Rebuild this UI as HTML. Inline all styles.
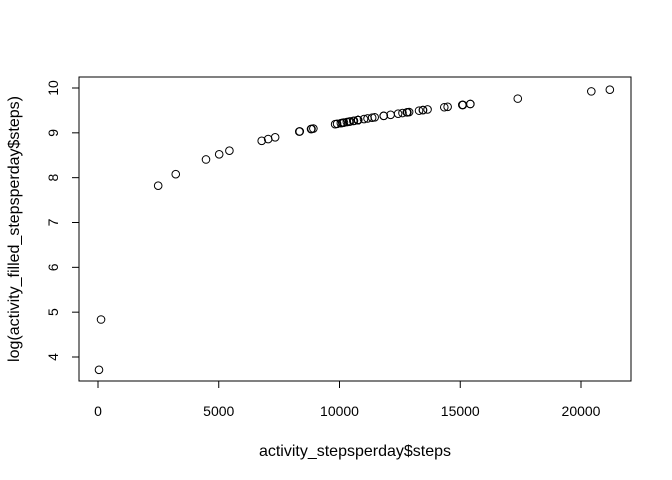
<!DOCTYPE html>
<html><head><meta charset="utf-8"><style>
body{margin:0;background:#fff}
svg{display:block;font-family:"Liberation Sans",sans-serif}
</style></head><body>
<svg id="chart" width="672" height="480" xmlns="http://www.w3.org/2000/svg">
<rect x="79" y="77" width="552" height="304" fill="none" stroke="#000" stroke-width="1"/>
<g id="xaxis"></g>
<g id="yaxis"></g>
<g id="points"></g>
<text x="355" y="456" text-anchor="middle" font-size="16">activity_stepsperday$steps</text>
<text x="0" y="0" transform="translate(19,229) rotate(-90)" text-anchor="middle" font-size="16">log(activity_filled_stepsperday$steps)</text>
</svg>
<script>
const steps = [126,11352,12116,13294,15420,11015,12811,9900,10304,17382,12426,15098,10139,15084,13452,10056,11829,10395,8821,13460,8918,8355,2492,6778,10119,11458,5018,9819,15414,10600,10571,10439,8334,12883,3219,12608,10765,7336,41,5441,14339,15110,8841,4472,12787,20427,21194,14478,11834,11162,13646,10183,7047,10766,10766,10766,10766,10766,10766,10766,10766];
const xTicks = [0,5000,10000,15000,20000];
const yTicks = [4,5,6,7,8,9,10];
const NS="http://www.w3.org/2000/svg";
function sx(v){return 98+v*(483/20000);}
function sy(v){return 357-(v-4)*(269/6);}
function mk(t,a,p){const e=document.createElementNS(NS,t);for(const k in a)e.setAttribute(k,a[k]);p.appendChild(e);return e;}
const xa=document.getElementById('xaxis'),ya=document.getElementById('yaxis'),pts=document.getElementById('points');
mk('line',{x1:sx(xTicks[0]),x2:sx(xTicks[xTicks.length-1]),y1:381,y2:381,stroke:'#000'},xa);
xTicks.forEach(t=>{
  const l=mk('line',{x1:sx(t),x2:sx(t),y1:381,y2:388,stroke:'#000'},xa);
  
  
  const tx=mk('text',{x:sx(t),y:416,'text-anchor':'middle','font-size':'14'},xa);
  tx.textContent=t;
  
  
});
mk('line',{x1:79,x2:79,y1:sy(yTicks[0]),y2:sy(yTicks[yTicks.length-1]),stroke:'#000'},ya);
yTicks.forEach(t=>{
  const l=mk('line',{x1:72,x2:79,y1:sy(t),y2:sy(t),stroke:'#000'},ya);
  
  
  const tx=mk('text',{x:0,y:0,transform:`translate(${58},${sy(t)}) rotate(-90)`,'text-anchor':'middle','font-size':'14'},ya);
  tx.textContent=t;
  
  
});
steps.forEach(s=>{
  const c=mk('circle',{cx:sx(s),cy:sy(Math.log(s)),r:3.8,fill:'none',stroke:'#000','stroke-width':'1'},pts);
  
  
});
</script>
</body></html>
